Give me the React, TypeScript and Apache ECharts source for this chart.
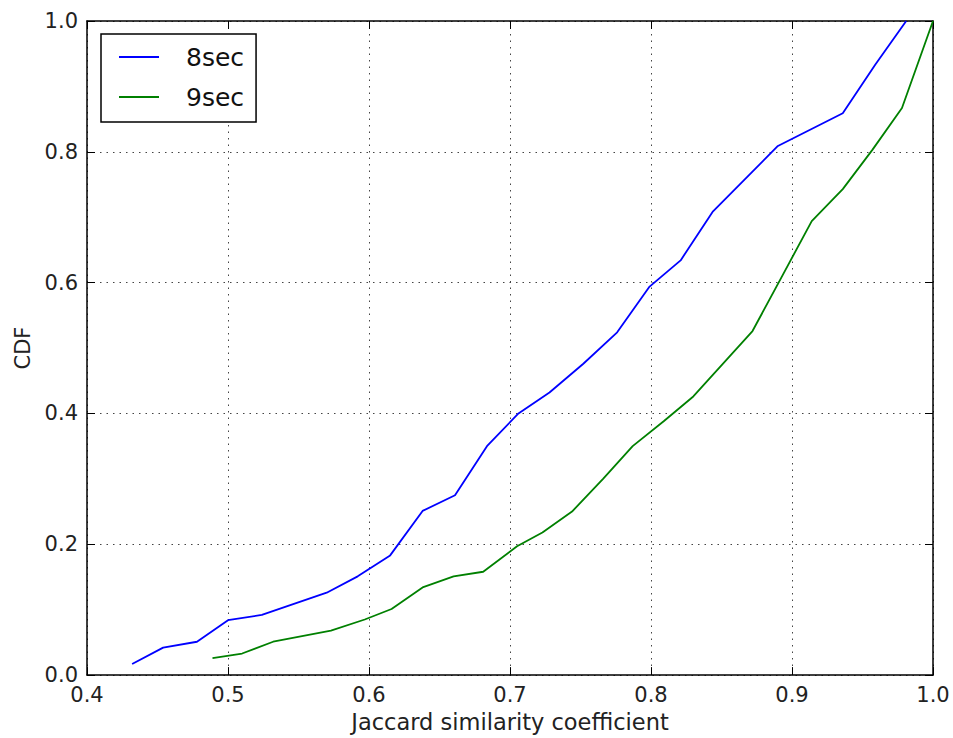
import React, { useEffect, useRef } from "react";
import * as echarts from "echarts";

// Jaccard similarity coefficient (x) and cumulative fraction (y) for each window length
const jaccard8sec = [0.432, 0.454, 0.478, 0.5, 0.524, 0.57, 0.592, 0.615, 0.638, 0.661, 0.684, 0.706, 0.728, 0.752, 0.776, 0.799, 0.821, 0.844, 0.89, 0.936, 0.959, 0.981];
const cdf8sec = [0.017, 0.042, 0.051, 0.084, 0.092, 0.126, 0.151, 0.183, 0.251, 0.275, 0.351, 0.4, 0.432, 0.476, 0.524, 0.594, 0.634, 0.709, 0.809, 0.859, 0.933, 1.0];

const jaccard9sec = [0.489, 0.51, 0.532, 0.573, 0.597, 0.616, 0.638, 0.66, 0.681, 0.705, 0.723, 0.744, 0.766, 0.787, 0.809, 0.83, 0.872, 0.893, 0.914, 0.936, 0.957, 0.978, 1.0];
const cdf9sec = [0.026, 0.033, 0.051, 0.068, 0.085, 0.101, 0.134, 0.151, 0.158, 0.197, 0.218, 0.25, 0.3, 0.35, 0.388, 0.426, 0.526, 0.61, 0.694, 0.743, 0.803, 0.867, 1.0];

const seriesNames = ["8sec", "9sec"];
const seriesColors = ["#0000ff", "#008000"];

const xMin = 0.4;
const xMax = 1.0;
const yMin = 0.0;
const yMax = 1.0;
const xStep = 0.1;
const yStep = 0.2;

const xTitle = "Jaccard similarity coefficient";
const yTitle = "CDF";

const FONT = "DejaVu Sans";

const zip = (xs: number[], ys: number[]) => xs.map((x, i) => [x, ys[i]]);

export default function App() {
  const ref = useRef<HTMLDivElement>(null);

  useEffect(() => {
    if (!ref.current) return;
    const chart = echarts.init(ref.current, undefined, { renderer: "svg" });

    const gridLine = {
      show: true,
      lineStyle: { color: "#444", width: 1, type: [1.5, 5] as number[] },
    };
    const tick = {
      show: true,
      inside: true,
      length: 8,
      lineStyle: { color: "#000", width: 1 },
    };
    const axisLine = { show: true, onZero: false, lineStyle: { color: "#000", width: 1.5 } };
    const label = {
      fontFamily: FONT,
      fontSize: 21,
      color: "#222",
      margin: 9,
      formatter: (v: number) => v.toFixed(1),
    };

    chart.setOption({
      animation: false,
      backgroundColor: "#fff",
      grid: { left: 87, right: 20, top: 21, bottom: 62, containLabel: false },
      legend: {
        left: 101,
        top: 34,
        orient: "vertical",
        data: seriesNames.map((n) => ({ name: n, icon: "rect" })),
        itemWidth: 40,
        itemHeight: 1.8,
        itemGap: 10,
        padding: [8, 12, 10, 18],
        borderColor: "#000",
        borderWidth: 1.5,
        backgroundColor: "#fff",
        textStyle: {
          fontFamily: FONT,
          fontSize: 25,
          color: "#111",
          lineHeight: 30,
          padding: [0, 0, 0, 22],
        },
      },
      xAxis: [
        {
          type: "value",
          min: xMin,
          max: xMax,
          interval: xStep,
          position: "bottom",
          name: xTitle,
          nameLocation: "middle",
          nameGap: 33,
          nameTextStyle: { fontFamily: FONT, fontSize: 22.5, color: "#222" },
          axisLine,
          axisTick: tick,
          axisLabel: label,
          splitLine: gridLine,
        },
        {
          type: "value",
          min: xMin,
          max: xMax,
          interval: xStep,
          position: "top",
          axisLine,
          axisTick: tick,
          axisLabel: { show: false },
          splitLine: { show: false },
        },
      ],
      yAxis: [
        {
          type: "value",
          min: yMin,
          max: yMax,
          interval: yStep,
          position: "left",
          name: yTitle,
          nameLocation: "middle",
          nameGap: 50,
          nameTextStyle: { fontFamily: FONT, fontSize: 21, color: "#222" },
          axisLine,
          axisTick: tick,
          axisLabel: label,
          splitLine: gridLine,
        },
        {
          type: "value",
          min: yMin,
          max: yMax,
          interval: yStep,
          position: "right",
          axisLine,
          axisTick: tick,
          axisLabel: { show: false },
          splitLine: { show: false },
        },
      ],
      series: [
        {
          name: seriesNames[0],
          type: "line",
          xAxisIndex: 0,
          yAxisIndex: 0,
          data: zip(jaccard8sec, cdf8sec),
          showSymbol: false,
          symbol: "none",
          color: seriesColors[0],
          lineStyle: { color: seriesColors[0], width: 1.8 },
          z: 3,
        },
        {
          name: seriesNames[1],
          type: "line",
          xAxisIndex: 0,
          yAxisIndex: 0,
          data: zip(jaccard9sec, cdf9sec),
          showSymbol: false,
          symbol: "none",
          color: seriesColors[1],
          lineStyle: { color: seriesColors[1], width: 1.8 },
          z: 3,
        },
      ],
    });

    return () => chart.dispose();
  }, []);

  return (
    <div
      ref={ref}
      style={{ position: "fixed", left: 0, top: 0, width: 953, height: 738, background: "#fff" }}
    />
  );
}
